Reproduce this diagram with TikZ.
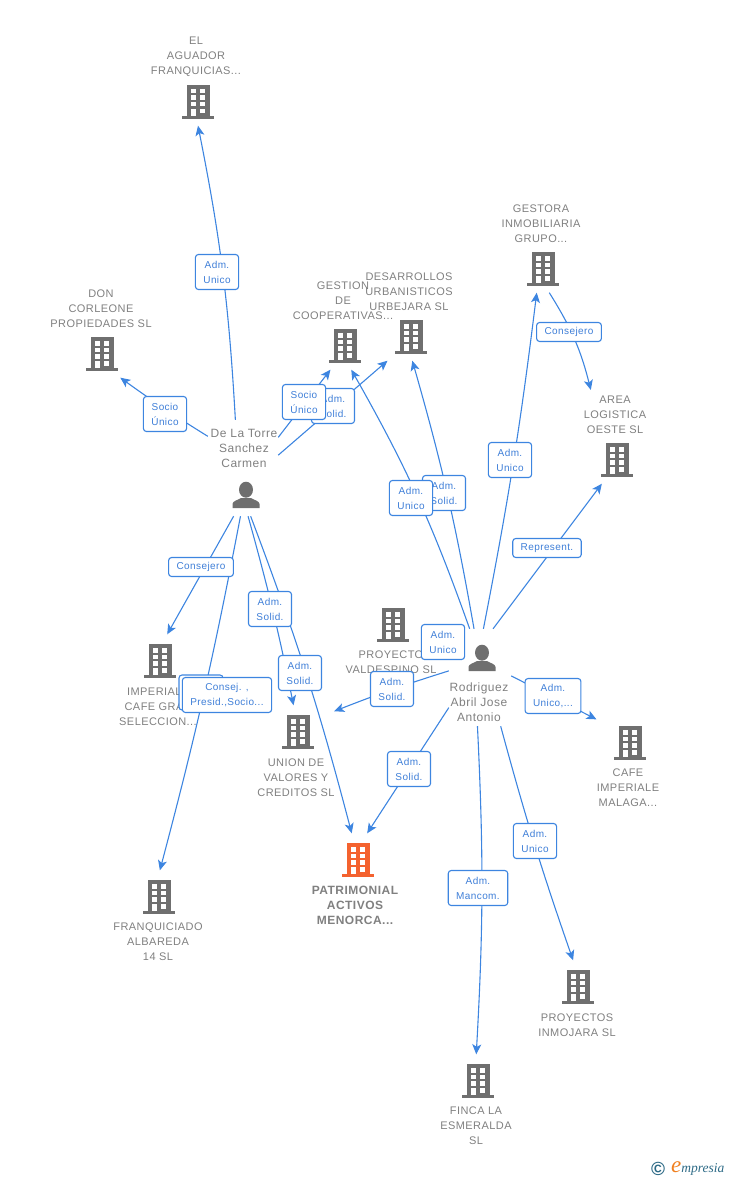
\documentclass[tikz,border=0pt]{standalone}
\usepackage{fontspec}
\setmainfont{Liberation Sans}
\newfontfamily\firmfont[LetterSpace=4]{Liberation Sans}
\newfontfamily\logofont{Liberation Serif}
\usetikzlibrary{arrows.meta}
\definecolor{icongray}{HTML}{6F6F6F}
\definecolor{iconorange}{HTML}{F4622F}
\definecolor{txtgray}{HTML}{808080}
\definecolor{linkblue}{HTML}{3D85E0}
\definecolor{lblblue}{HTML}{3F7FD8}
\definecolor{logoteal}{HTML}{2D6A86}
\definecolor{logoorange}{HTML}{F08020}

\tikzset{
	building/.style={minimum width=72pt, minimum height=50pt, inner sep=0pt, path picture={
		\begin{scope}[shift={(path picture bounding box.center)}]
			\fill[#1] (-11.5,-15.5) rectangle (11.5,15.5);
			\fill[#1] (-16,15.5) rectangle (16,18.5);
			\foreach \wy in {-11.5,-5,1.5,8.5} \fill[white] (2,\wy) rectangle (7,\wy+4.5);
			\foreach \wy in {-11.5,-5,1.5} \fill[white] (-7,\wy) rectangle (-2,\wy+4.5);
			\fill[white] (-7,8.5) rectangle (-2,15.5);
		\end{scope}
	}},
	building/.default=icongray,
	person icon/.style={minimum size=30pt, inner sep=0pt, path picture={
		\begin{scope}[shift={(path picture bounding box.center)}]
			\fill[icongray] (0,-5.3) ellipse (7 and 8);
			\fill[icongray] (-13.5,13) -- (-13.5,9) .. controls (-13.5,6) and (-8,5) .. (-5,3) -- (5,3) .. controls (8,5) and (13.5,6) .. (13.5,9) -- (13.5,13) -- cycle;
		\end{scope}
	}},
	firm/.style={align=center, inner sep=6pt, text=txtgray, font=\fontsize{11}{15}\selectfont\firmfont},
	firm main/.style={firm, font=\fontsize{12}{15}\selectfont\firmfont\bfseries},
	who/.style={firm, font=\fontsize{12}{15}\selectfont\firmfont},
	lbl/.style={draw=linkblue, line width=1.1pt, rounded corners=3pt, fill=white, align=center, inner xsep=8pt, inner ysep=3pt, minimum height=19pt, text=lblblue, font=\fontsize{10}{15}\selectfont\firmfont},
	lbl two/.style={lbl, minimum height=35pt}
}

\begin{document}
\begin{tikzpicture}[x=1pt, y=-1pt, >={Stealth[length=10pt, width=9pt, inset=2.5pt]}]
	\useasboundingbox (0,0) rectangle (728,1180);

	% firms
	\node[building] (aguador) at (198,100.5) {};
	\node[building] (corleone) at (102,352.5) {};
	\node[building] (gestion) at (345,344.5) {};
	\node[building] (desarrollos) at (411,335.5) {};
	\node[building] (gestora) at (543,267.5) {};
	\node[building] (area) at (617,458.5) {};
	\node[building] (imperial) at (160,659.5) {};
	\node[building] (valdespino) at (393,623.5) {};
	\node[building] (union) at (298,730.5) {};
	\node[building=iconorange] (patrimonial) at (358,858.5) {};
	\node[building] (cafe) at (630,741.5) {};
	\node[building] (franquiciado) at (159,895.5) {};
	\node[building] (inmojara) at (578,985.5) {};
	\node[building] (finca) at (478,1079.5) {};

	\node[firm] (aguador txt) at (196,57) {EL\\AGUADOR\\FRANQUICIAS...};
	\node[firm] (corleone txt) at (101,309) {DON\\CORLEONE\\PROPIEDADES SL};
	\node[firm] (gestion txt) at (343,301) {GESTION\\DE\\COOPERATIVAS...};
	\node[firm] (desarrollos txt) at (409,292) {DESARROLLOS\\URBANISTICOS\\URBEJARA SL};
	\node[firm] (gestora txt) at (541,224) {GESTORA\\INMOBILIARIA\\GRUPO...};
	\node[firm] (area txt) at (615,415) {AREA\\LOGISTICA\\OESTE SL};
	\node[firm] (imperial txt) at (158,707) {IMPERIAL\phantom{E}\\CAFE GRA\phantom{N}\\SELECCION...};
	\node[firm] (valdespino txt) at (391,662.5) {PROYECTO\\VALDESPINO SL};
	\node[firm] (union txt) at (296,778) {UNION DE\\VALORES Y\\CREDITOS SL};
	\node[firm main] (patrimonial txt) at (355,905) {PATRIMONIAL\\ACTIVOS\\MENORCA...};
	\node[firm] (cafe txt) at (628,788) {CAFE\\IMPERIALE\\MALAGA...};
	\node[firm] (franquiciado txt) at (158,942) {FRANQUICIADO\\ALBAREDA\\14 SL};
	\node[firm] (inmojara txt) at (577,1025.5) {PROYECTOS\\INMOJARA SL};
	\node[firm] (finca txt) at (476,1126) {FINCA LA\\ESMERALDA\\SL};

	% people
	\node[minimum width=70pt, minimum height=96pt, inner sep=0pt] (torre) at (243,468) {};
	\node[person icon] (torre icon) at (246,495) {};
	\node[who] (torre txt) at (244,448) {De La Torre\\Sanchez\\Carmen};
	\node[minimum width=62pt, minimum height=97pt, inner sep=0pt] (rodriguez) at (480,677.5) {};
	\node[person icon] (rodriguez icon) at (482,658) {};
	\node[who] (rodriguez txt) at (479,702) {Rodriguez\\Abril Jose\\Antonio};

	\path[->, linkblue, line width=1.1pt]
		(torre.99.5) edge [bend right=4] (aguador.south)
		(torre.138.5) edge [bend left=2] (corleone.-54)
		(torre.41.5) edge (gestion.-120)
		(torre.20.4) edge (desarrollos.-133)
		(torre.-101.8) edge (imperial.74)
		(torre.-93.6) edge [bend left=2] (franquiciado.88)
		(torre.-84) edge [bend left=2] (union.100)
		(torre.-81.7) edge [bend left=3] (patrimonial.104)
		(rodriguez.86.5) edge [bend right=2] (gestora.-104)
		(rodriguez.75) edge (area.-121.5)
		(rodriguez.97) edge [bend right=3] (desarrollos.-87.6)
		(rodriguez.102.8) edge [bend right=5] (gestion.-76)
		(rodriguez.168) edge [bend right=2] (union.28.4)
		(rodriguez.224.5) edge (patrimonial.70)
		(rodriguez.3) edge [shorten >=-3pt] (cafe.147)
		(rodriguez.267.6) edge [bend left=3] (finca.94.5)
		(rodriguez.-67.6) edge [bend right=2] (inmojara.101.5)
		(gestora.-76) edge [bend left=9] (area txt.134)
	;

	% labels go last, the links run under them
	\node[lbl two] (l aguador) at (217,272) {Adm.\\Unico};
	\node[lbl two] (l corleone) at (165,414) {Socio\\Único};
	\node[lbl two] (l desarrollos) at (333,406) {Adm.\\Solid.};
	\node[lbl two] (l gestion) at (304,402) {Socio\\Único};
	\node[lbl] (l imperial) at (201,567) {Consejero};
	\node[lbl two, minimum width=44pt] (l franquiciado) at (201,692.5) {};
	\node[lbl two] (l consej) at (227,695) {Consej. ,\\Presid.,Socio...};
	\node[lbl two] (l union) at (270,609) {Adm.\\Solid.};
	\node[lbl two] (l patrimonial) at (300,673) {Adm.\\Solid.};
	\node[lbl two] (l gestora) at (510,460) {Adm.\\Unico};
	\node[lbl] (l area) at (547,548) {Represent.};
	\node[lbl two] (l rod desarrollos) at (444,493) {Adm.\\Solid.};
	\node[lbl two] (l rod gestion) at (411,498) {Adm.\\Unico};
	\node[lbl two] (l valdespino) at (443,642) {Adm.\\Unico};
	\node[lbl two] (l rod union) at (392,689) {Adm.\\Solid.};
	\node[lbl two] (l rod patrimonial) at (409,769) {Adm.\\Solid.};
	\node[lbl two] (l cafe) at (553,696) {Adm.\\Unico,...};
	\node[lbl two] (l finca) at (478,888) {Adm.\\Mancom.};
	\node[lbl two] (l inmojara) at (535,841) {Adm.\\Unico};
	\node[lbl] (l gestora area) at (569,332) {Consejero};

	% logo
	\node[text=logoteal, inner sep=0pt, font=\fontsize{19}{19}\selectfont\bfseries] (copy) at (658,1169) {©};
	\node[inner sep=0pt, anchor=west, font=\logofont\itshape] (logo) at (671,1169) {\fontsize{23}{23}\selectfont\textcolor{logoorange}{e}\fontsize{13.5}{13.5}\selectfont\textcolor{logoteal}{mpresia}};
\end{tikzpicture}
\end{document}
